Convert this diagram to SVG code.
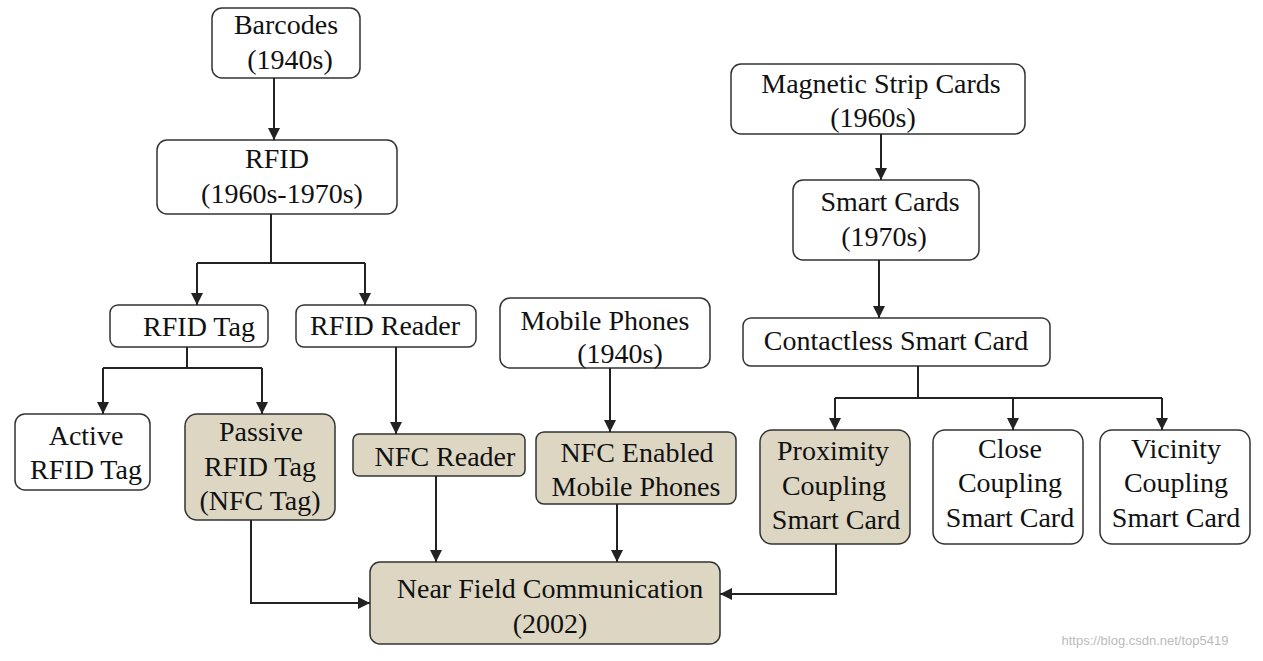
<svg xmlns="http://www.w3.org/2000/svg" width="1263" height="661" viewBox="0 0 1263 661">
<defs>
<style>
.b{fill:#fff;stroke:#333;stroke-width:1.5}
.s{fill:#dcd6c3;stroke:#333;stroke-width:1.5}
text{font-family:"Liberation Serif",serif;font-size:28px;fill:#111;text-anchor:middle}
.c{fill:none;stroke:#222;stroke-width:2}
.a{marker-end:url(#ar)}
</style>
<marker id="ar" viewBox="0 0 10 10" refX="10" refY="5" markerWidth="14" markerHeight="12" markerUnits="userSpaceOnUse" orient="auto"><path d="M0,0L10,5L0,10z" fill="#222"/></marker>
</defs>
<rect width="1263" height="661" fill="#fff"/>
<g id="barcodes"><rect class="b" x="212" y="8" width="148" height="70" rx="10"/><text x="286" y="34">Barcodes</text><text x="290" y="69">(1940s)</text></g>
<g id="rfid"><rect class="b" x="157" y="140" width="240" height="74" rx="10"/><text x="277" y="168">RFID</text><text x="282" y="203">(1960s-1970s)</text></g>
<g id="magnetic"><rect class="b" x="731" y="64" width="294" height="70" rx="10"/><text x="881" y="93">Magnetic Strip Cards</text><text x="873" y="127">(1960s)</text></g>
<g id="smart"><rect class="b" x="793" y="180" width="186" height="80" rx="10"/><text x="890" y="211">Smart Cards</text><text x="884" y="246">(1970s)</text></g>
<g id="rfidtag"><rect class="b" x="110" y="305" width="158" height="42" rx="8"/><text x="199" y="336">RFID Tag</text></g>
<g id="rfidreader"><rect class="b" x="296" y="305" width="180" height="42" rx="8"/><text x="385" y="335">RFID Reader</text></g>
<g id="mobile"><rect class="b" x="500" y="298" width="210" height="70" rx="10"/><text x="605" y="330">Mobile Phones</text><text x="620" y="363">(1940s)</text></g>
<g id="contactless"><rect class="b" x="743" y="318" width="307" height="48" rx="8"/><text x="896" y="350">Contactless Smart Card</text></g>
<g id="active"><rect class="b" x="15" y="414" width="135" height="76" rx="10"/><text x="86" y="445">Active</text><text x="86" y="479">RFID Tag</text></g>
<g id="passive"><rect class="s" x="185" y="414" width="150" height="106" rx="12"/><text x="261" y="441">Passive</text><text x="260" y="476">RFID Tag</text><text x="260" y="510">(NFC Tag)</text></g>
<g id="nfcreader"><rect class="s" x="353" y="434" width="172" height="42" rx="6"/><text x="445" y="466">NFC Reader</text></g>
<g id="nfcenabled"><rect class="s" x="536" y="432" width="200" height="72" rx="8"/><text x="637" y="462">NFC Enabled</text><text x="636" y="496">Mobile Phones</text></g>
<g id="proximity"><rect class="s" x="760" y="430" width="150" height="114" rx="12"/><text x="833" y="460">Proximity</text><text x="834" y="495">Coupling</text><text x="836" y="529">Smart Card</text></g>
<g id="close"><rect class="b" x="933" y="430" width="150" height="114" rx="12"/><text x="1010" y="458">Close</text><text x="1010" y="492">Coupling</text><text x="1010" y="527">Smart Card</text></g>
<g id="vicinity"><rect class="b" x="1100" y="430" width="150" height="114" rx="12"/><text x="1176" y="458">Vicinity</text><text x="1176" y="492">Coupling</text><text x="1176" y="527">Smart Card</text></g>
<g id="nfc"><rect class="s" x="370" y="562" width="350" height="82" rx="10"/><text x="550" y="598">Near Field Communication</text><text x="550" y="633">(2002)</text></g>
<g id="connectors">
<path class="c a" d="M274,78V140"/>
<path class="c" d="M271,214V263M197,263H365"/>
<path class="c a" d="M197,263V305"/><path class="c a" d="M365,263V305"/>
<path class="c" d="M187,347V368M103,368H262"/>
<path class="c a" d="M103,368V414"/><path class="c a" d="M262,368V414"/>
<path class="c a" d="M396,347V434"/>
<path class="c a" d="M610,368V432"/>
<path class="c a" d="M881,134V180"/>
<path class="c a" d="M879,260V318"/>
<path class="c" d="M918,366V398M835,398H1162"/>
<path class="c a" d="M835,398V430"/><path class="c a" d="M1013,398V430"/><path class="c a" d="M1162,398V430"/>
<path class="c a" d="M436,476V562"/>
<path class="c a" d="M617,504V562"/>
<path class="c a" d="M251,520V603H370"/>
<path class="c a" d="M836,544V594H720"/>
</g>
<text x="1145" y="645" style="font-family:'Liberation Sans',sans-serif;font-size:13px;fill:#bbb">https://blog.csdn.net/top5419</text>
</svg>
